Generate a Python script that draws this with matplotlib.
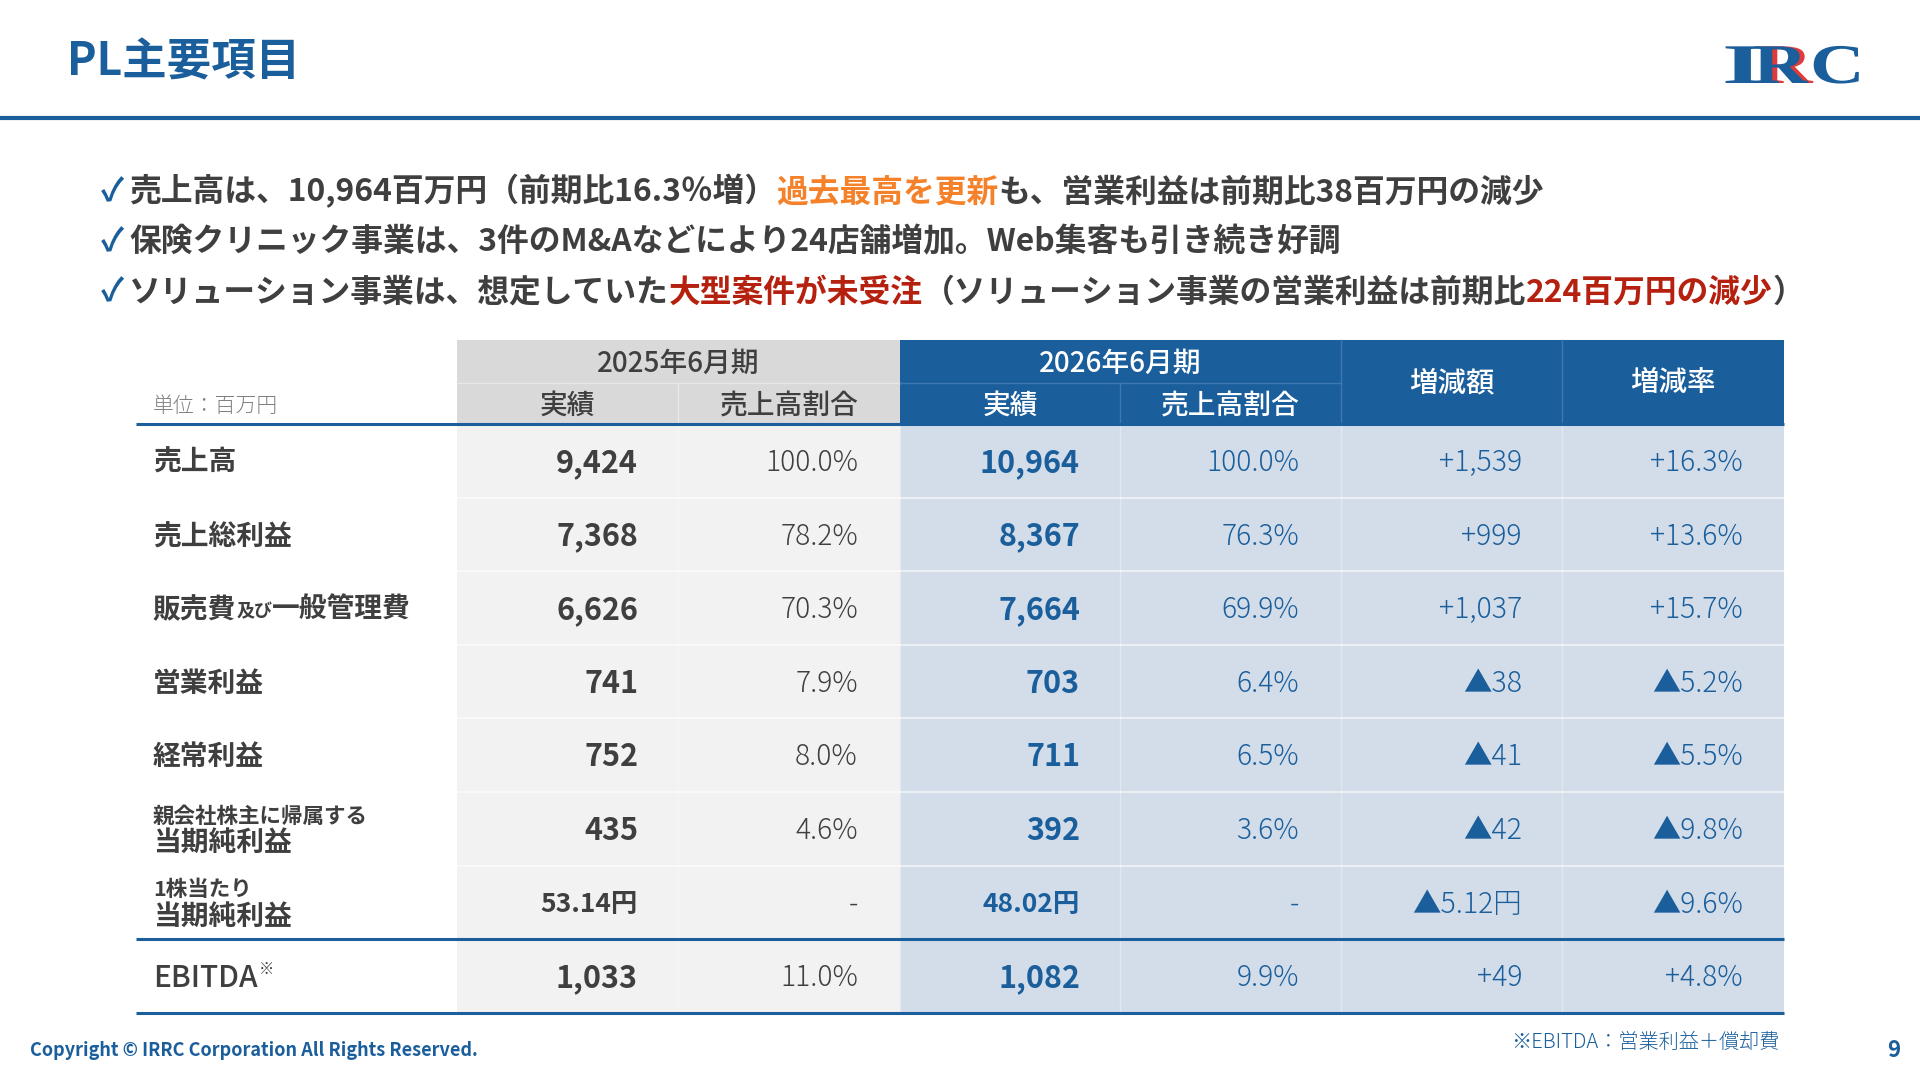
import matplotlib
matplotlib.use('Agg')
import matplotlib.pyplot as plt
from matplotlib.patches import Rectangle, PathPatch
from matplotlib.textpath import TextPath
from matplotlib.font_manager import FontProperties
from matplotlib.transforms import Affine2D

plt.rcParams['font.family'] = ['Noto Sans CJK JP', 'DejaVu Sans']

# ---- data ----
row_labels = ['売上高', '売上総利益', '販売費及び一般管理費', '営業利益', '経常利益',
              '親会社株主に帰属する\n当期純利益', '1株当たり\n当期純利益', 'EBITDA※']
fy25 = [9424, 7368, 6626, 741, 752, 435, 53.14, 1033]
ratio25 = [100.0, 78.2, 70.3, 7.9, 8.0, 4.6, None, 11.0]
fy26 = [10964, 8367, 7664, 703, 711, 392, 48.02, 1082]
ratio26 = [100.0, 76.3, 69.9, 6.4, 6.5, 3.6, None, 9.9]
diff = [1539, 999, 1037, -38, -41, -42, -5.12, 49]
rate = [16.3, 13.6, 15.7, -5.2, -5.5, -9.8, -9.6, 4.8]
eps_row = 6

title = 'PL主要項目'
bullets = [
    [('売上高は、10,964百万円（前期比16.3％増）', 'd'), ('過去最高を更新', 'o'),
     ('も、営業利益は前期比38百万円の減少', 'd')],
    [('保険クリニック事業は、3件のM&Aなどにより24店舗増加。Web集客も引き続き好調', 'd')],
    [('ソリューション事業は、想定していた', 'd'), ('大型案件が未受注', 'r'),
     ('（ソリューション事業の営業利益は前期比', 'd'), ('224百万円の減少', 'r'), ('）', 'd')],
]
period25 = '2025年6月期'
period26 = '2026年6月期'
sub_heads = ['実績', '売上高割合']
diff_head = '増減額'
rate_head = '増減率'
unit_label = '単位：百万円'
footnote = '※EBITDA：営業利益＋償却費'
copyright_txt = 'Copyright © IRRC Corporation All Rights Reserved.'
page_no = '9'

# ---- style ----
BLUE = '#1a5e9c'
DARK = '#3f3f3f'
ORANGE = '#f5822a'
RED = '#b5200f'
GREY_HEAD = '#d9d9d9'
GREY_BODY = '#f2f2f2'
BLUE_BODY = '#d3dde9'
run_colors = {'d': DARK, 'o': ORANGE, 'r': RED}

fig = plt.figure(figsize=(19.2, 10.8), dpi=100)
ax = fig.add_axes([0, 0, 1, 1])
ax.set_xlim(0, 1920)
ax.set_ylim(1080, 0)
ax.axis('off')
renderer = fig.canvas.get_renderer()
PX = 100 / 72


def put(x, yc, s, size, color=DARK, weight='normal', ha='left', **kw):
    base = yc + 0.36 * size * PX
    return ax.text(x, base, s, fontsize=size, color=color, fontweight=weight,
                   ha=ha, va='baseline', **kw)


def runs(x, yc, parts, weight='normal'):
    # parts: (text, color, size, dy)
    for s, c, sz, dy in parts:
        t = put(x, yc + dy, s, sz, color=c, weight=weight)
        x += t.get_window_extent(renderer=renderer).width
    return x


# ---- header ----
put(67, 59, title, 32, color=BLUE, weight='bold')
ax.plot([0, 1920], [117.5, 117.5], color=BLUE, lw=3, solid_capstyle='butt')

logo_font = FontProperties(family='Liberation Serif', weight='bold')


def logo_letter(ch, x0, base, color, sx=1.35, size=56):
    p = TextPath((0, 0), ch, size=size, prop=logo_font)
    tr = Affine2D().scale(sx, -1).translate(x0, base) + ax.transData
    ax.add_patch(PathPatch(p, transform=tr, facecolor=color, edgecolor='none'))


logo_letter('I', 1722, 83, BLUE, sx=1.9)
logo_letter('R', 1758, 83, '#e03a3a')
logo_letter('R', 1753, 83, BLUE)
logo_letter('C', 1810, 83, BLUE)

# ---- bullets ----
for i, line in enumerate(bullets):
    yc = 190 + i * 50
    put(101, yc, '✓', 23, color=BLUE, weight='bold')
    runs(129, yc, [(s, run_colors[k], 22.9, 0) for s, k in line], weight='bold')

# ---- table ----
cols = [136, 457, 678, 900, 1120, 1341, 1562, 1784]
h_top, h_mid, h_bot = 340, 383, 424
row_h = 73.6
n = len(row_labels)
t_bot = h_bot + n * row_h

# header cells
ax.add_patch(Rectangle((cols[1], h_top), cols[3] - cols[1], h_bot - h_top, fc=GREY_HEAD, ec='none'))
ax.add_patch(Rectangle((cols[3], h_top), cols[7] - cols[3], h_bot - h_top, fc=BLUE, ec='none'))
# body cells
ax.add_patch(Rectangle((cols[1], h_bot), cols[3] - cols[1], t_bot - h_bot, fc=GREY_BODY, ec='none'))
ax.add_patch(Rectangle((cols[3], h_bot), cols[7] - cols[3], t_bot - h_bot, fc=BLUE_BODY, ec='none'))

# header inner lines
ax.plot([cols[1], cols[3]], [h_mid, h_mid], color='#e8e8e8', lw=1)
ax.plot([cols[2], cols[2]], [h_mid, h_bot], color='#e8e8e8', lw=1)
ax.plot([cols[3], cols[5]], [h_mid, h_mid], color='#3d78b0', lw=1)
ax.plot([cols[4], cols[4]], [h_mid, h_bot], color='#3d78b0', lw=1)
for c in (cols[5], cols[6]):
    ax.plot([c, c], [h_top, h_bot], color='#3d78b0', lw=1)

# body grid lines
for r in range(1, n):
    y = h_bot + r * row_h
    ax.plot([cols[1], cols[7]], [y, y], color='white', lw=1.2, alpha=0.7)
for c in cols[2:7]:
    ax.plot([c, c], [h_bot, t_bot], color='white', lw=1, alpha=0.35)

ax.plot([cols[0], cols[7]], [h_bot, h_bot], color=BLUE, lw=2.2, solid_capstyle='butt')
ax.plot([cols[0], cols[7]], [h_bot + 7 * row_h, h_bot + 7 * row_h], color=BLUE, lw=2.2, solid_capstyle='butt')
ax.plot([cols[0], cols[7]], [t_bot, t_bot], color=BLUE, lw=2.2, solid_capstyle='butt')

# header text
HS = 20
put((cols[1] + cols[3]) / 2, 362, period25, HS, color=DARK, weight='medium', ha='center')
put((cols[3] + cols[5]) / 2, 362, period26, HS, color='white', weight='medium', ha='center')
for j, s in enumerate(sub_heads):
    put((cols[1 + j] + cols[2 + j]) / 2, 404, s, HS, color=DARK, weight='medium', ha='center')
    put((cols[3 + j] + cols[4 + j]) / 2, 404, s, HS, color='white', weight='medium', ha='center')
put((cols[5] + cols[6]) / 2, 381, diff_head, 20.5, color='white', weight='medium', ha='center')
put((cols[6] + cols[7]) / 2, 381, rate_head, 20.5, color='white', weight='medium', ha='center')
put(153, 404, unit_label, 15, color='#7f7f7f', weight='light')


def fmt_amount(v, eps):
    if eps:
        return f'{v:.2f}円'
    return f'{v:,.0f}'


def fmt_change(v, eps, pct=False):
    if pct:
        body = f'{abs(v):.1f}%'
    elif eps:
        body = f'{abs(v):.2f}円'
    else:
        body = f'{abs(v):,.0f}'
    return ('+' if v >= 0 else '▲') + body


LS = 20
for r, label in enumerate(row_labels):
    yc = h_bot + (r + 0.5) * row_h
    eps = r == eps_row
    # label
    if '\n' in label:
        top, bottom = label.split('\n')
        put(153, yc - 14, top, 15.5, color=DARK, weight='bold')
        put(153, yc + 12, bottom, LS, color=DARK, weight='bold')
    elif '及び' in label:
        a, b = label.split('及び')
        runs(153, yc, [(a, DARK, LS, 0), ('及び', DARK, 13, 3), (b, DARK, LS, 0)], weight='bold')
    elif label.endswith('※'):
        x = runs(153, yc, [(label[:-1], DARK, 21.5, 0)], weight='medium')
        put(x + 1, yc - 8, '※', 11, color=DARK)
    else:
        put(153, yc, label, LS, color=DARK, weight='bold')

    big = 19 if eps else 22
    put(cols[2] - 40, yc, fmt_amount(fy25[r], eps), big, color=DARK, weight='bold', ha='right')
    put(cols[4] - 40, yc, fmt_amount(fy26[r], eps), big, color=BLUE, weight='bold', ha='right')
    p25 = '-' if ratio25[r] is None else f'{ratio25[r]:.1f}%'
    p26 = '-' if ratio26[r] is None else f'{ratio26[r]:.1f}%'
    put(cols[3] - 42, yc, p25, 20.3, color=DARK, weight='light', ha='right')
    put(cols[5] - 42, yc, p26, 20.3, color=BLUE, weight='light', ha='right')
    put(cols[6] - 40, yc, fmt_change(diff[r], eps), 20.5, color=BLUE, weight='light', ha='right')
    put(cols[7] - 41, yc, fmt_change(rate[r], eps, pct=True), 20.3, color=BLUE, weight='light', ha='right')

# ---- footer ----
put(30, 1049, copyright_txt, 13, color=BLUE, weight='bold')
put(1779, 1041, footnote, 14.5, color=BLUE, weight='light', ha='right')
put(1894, 1049, page_no, 16, color=BLUE, weight='bold', ha='center')

fig.savefig('out.png', dpi=100)
